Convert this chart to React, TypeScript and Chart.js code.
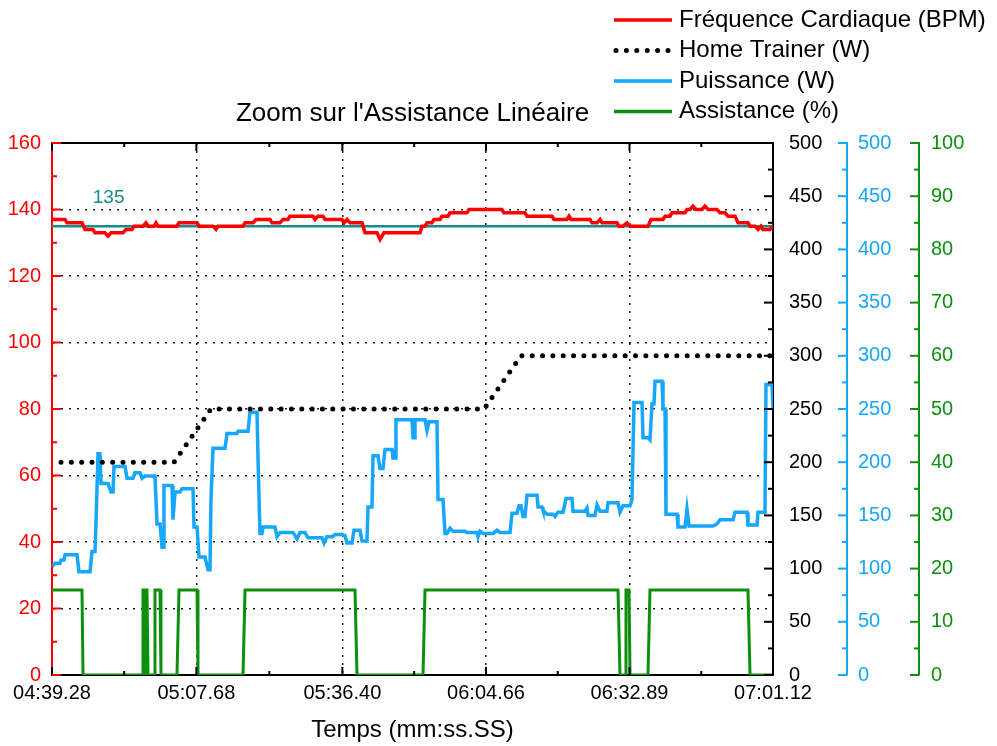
import React, { useEffect, useRef } from 'react';
import { Chart, registerables } from 'chart.js';

Chart.register(...registerables);

const FONT = "'Liberation Sans', Arial, sans-serif";

// ---------- data ----------
const chartTitle = "Zoom sur l'Assistance Linéaire";
const xAxisTitle = 'Temps (mm:ss.SS)';
const xTickLabels = ['04:39.28', '05:07.68', '05:36.40', '06:04.66', '06:32.89', '07:01.12'];

const seriesLabels = ['Fréquence Cardiaque (BPM)', 'Home Trainer (W)', 'Puissance (W)', 'Assistance (%)'];

const hrTimes = [279.28, 281.84, 282.23, 285.18, 285.77, 287.35, 287.74, 289.71, 290.30, 290.89, 293.25, 293.84, 295.02, 295.41, 297.18, 297.77, 298.17, 299.35, 299.74, 300.13, 303.87, 304.26, 307.81, 308.20, 310.95, 311.54, 311.94, 316.86, 317.25, 318.82, 319.41, 322.17, 322.56, 324.13, 324.72, 325.71, 326.10, 330.63, 331.02, 331.61, 332.59, 332.99, 336.33, 336.73, 337.32, 337.91, 340.27, 340.86, 343.22, 343.81, 344.59, 351.68, 352.07, 352.66, 353.05, 354.04, 354.43, 355.61, 356.00, 357.19, 357.58, 360.92, 361.32, 367.81, 368.20, 372.33, 372.73, 377.65, 378.04, 380.60, 380.99, 381.38, 385.12, 385.51, 386.50, 387.09, 387.48, 390.43, 390.83, 391.61, 392.40, 392.99, 396.53, 397.12, 399.48, 399.88, 400.86, 401.25, 403.81, 404.20, 404.79, 405.38, 405.97, 407.15, 407.74, 408.33, 410.11, 410.70, 411.68, 412.27, 413.65, 414.24, 416.20, 416.60, 417.58, 418.17, 418.76, 419.15, 420.53, 421.12];
const hrValues = [137, 137, 136, 136, 134, 134, 133, 133, 132, 133, 133, 134, 134, 135, 135, 136, 135, 135, 136, 135, 135, 136, 136, 135, 135, 134, 135, 135, 136, 136, 137, 137, 136, 136, 137, 137, 138, 138, 137, 138, 138, 137, 137, 136, 137, 136, 136, 133, 133, 131, 133, 133, 135, 135, 136, 136, 137, 137, 138, 138, 139, 139, 140, 140, 139, 139, 138, 138, 137, 137, 138, 137, 137, 136, 136, 137, 136, 136, 135, 135, 136, 135, 135, 137, 137, 138, 138, 139, 139, 140, 140, 141, 140, 140, 141, 140, 140, 139, 139, 138, 138, 136, 136, 135, 135, 134, 135, 134, 134, 135];

const trainerTimes = [281.05, 303.28, 310.56, 364.27, 371.55, 421.12];
const trainerValues = [200, 200, 250, 250, 300, 300];

const powerTimes = [279.28, 279.87, 280.85, 281.05, 281.64, 281.84, 284.20, 284.59, 286.76, 287.15, 287.74, 287.94, 288.13, 288.33, 288.72, 288.92, 290.30, 290.89, 291.28, 291.48, 293.64, 294.04, 295.22, 295.61, 296.59, 296.99, 297.58, 299.54, 299.94, 300.53, 300.92, 301.12, 301.31, 302.89, 303.08, 303.48, 304.46, 304.86, 307.02, 307.22, 307.81, 308.20, 309.38, 309.97, 310.36, 310.56, 310.95, 313.31, 313.71, 315.67, 315.87, 317.84, 318.23, 319.61, 319.81, 320.20, 320.59, 320.79, 323.15, 323.54, 324.13, 326.69, 327.48, 328.07, 329.05, 329.64, 332.40, 332.79, 333.38, 334.36, 334.95, 336.33, 336.92, 337.32, 338.30, 338.69, 339.87, 340.27, 341.25, 341.45, 342.23, 342.43, 343.41, 343.81, 344.40, 344.79, 346.17, 346.36, 346.76, 346.95, 350.10, 350.30, 350.50, 350.69, 352.66, 353.05, 353.44, 355.02, 355.22, 356.20, 356.60, 356.99, 357.58, 358.17, 360.53, 360.92, 362.89, 363.09, 363.48, 364.07, 366.03, 366.83, 367.42, 369.38, 369.78, 370.76, 371.15, 371.55, 371.94, 372.33, 372.73, 374.70, 374.89, 375.68, 375.87, 376.66, 377.84, 378.23, 378.83, 379.81, 380.40, 381.58, 381.78, 384.14, 384.53, 384.73, 386.10, 386.50, 387.09, 388.46, 388.66, 390.63, 391.02, 391.61, 392.99, 393.38, 393.78, 395.35, 395.55, 396.53, 396.92, 397.32, 397.71, 397.91, 399.29, 399.48, 399.88, 400.07, 402.24, 402.43, 403.42, 403.81, 404.20, 404.60, 409.32, 410.11, 410.70, 413.26, 413.65, 416.01, 416.20, 417.98, 418.17, 419.54, 419.74, 420.92, 421.12];
const powerValues = [102, 105, 105, 108, 108, 113, 113, 97, 97, 116, 116, 144, 144, 208, 208, 180, 180, 172, 172, 196, 196, 185, 185, 190, 190, 185, 187, 187, 142, 142, 120, 120, 178, 178, 146, 172, 172, 175, 175, 139, 139, 111, 111, 99, 99, 165, 213, 213, 227, 227, 229, 229, 247, 247, 203, 133, 133, 139, 139, 130, 134, 134, 128, 134, 134, 129, 129, 124, 130, 130, 132, 132, 131, 124, 124, 136, 136, 126, 126, 158, 158, 206, 206, 194, 194, 212, 212, 204, 204, 240, 240, 223, 223, 240, 240, 230, 238, 238, 165, 165, 133, 133, 138, 135, 135, 134, 134, 130, 135, 133, 133, 136, 134, 134, 152, 152, 159, 159, 149, 149, 169, 169, 158, 158, 155, 151, 151, 149, 153, 153, 166, 166, 154, 154, 157, 150, 150, 160, 154, 154, 162, 162, 153, 159, 159, 165, 256, 256, 223, 223, 221, 255, 255, 276, 276, 250, 250, 151, 151, 139, 139, 139, 156, 140, 140, 142, 146, 146, 153, 153, 141, 141, 153, 153, 273, 273, 250];

const assistTimes = [279.28, 285.18, 285.38, 296.99, 297.18, 297.38, 297.58, 297.68, 297.87, 297.97, 298.17, 299.35, 299.54, 300.53, 300.72, 303.87, 304.26, 307.81, 308.00, 316.86, 317.25, 338.89, 339.28, 352.27, 352.66, 390.63, 391.02, 392.01, 392.20, 392.79, 392.99, 396.53, 396.92, 416.20, 416.60, 421.12];
const assistValues = [16, 16, 0, 0, 16, 16, 0, 0, 16, 16, 0, 0, 16, 16, 0, 0, 16, 16, 0, 0, 16, 16, 0, 0, 16, 16, 0, 0, 16, 16, 0, 0, 16, 16, 0, 0];

const refLineValue = 135;
const refLabelText = '135';
const refLabelTime = 287.3;
const refLabelValue = 143.5;

// ---------- style ----------
const RED = '#FF0000';
const BLUE = '#16A6FA';
const GREEN = '#0E900E';
const TEAL = '#168C8C';
const BLACK = '#000000';

const toSec = (s: string) => {
  const [m, r] = s.split(':');
  return Number(m) * 60 + Number(r);
};
const xMajor = xTickLabels.map(toSec);
const xAllTicks: number[] = [];
xMajor.forEach((v, i) => {
  xAllTicks.push(v);
  if (i < xMajor.length - 1) xAllTicks.push((v + xMajor[i + 1]) / 2);
});
const isXMajor = (v: number) => xMajor.some((m) => Math.abs(m - v) < 1e-6);

const range = (min: number, max: number, step: number) => {
  const out: number[] = [];
  for (let v = min; v <= max + 1e-9; v += step) out.push(Number(v.toFixed(6)));
  return out;
};

const pts = (ts: number[], vs: number[]) => ts.map((t, i) => ({ x: t, y: vs[i] }));

type YAxisCfg = {
  id: string; position: 'left' | 'right'; min: number; max: number; minor: number; major: number;
  color: string; width: number; pad: number; grid: boolean; inward: boolean; majorLen: number; minorLen: number;
};

const yAxes: YAxisCfg[] = [
  { id: 'y', position: 'left', min: 0, max: 160, minor: 10, major: 20, color: RED, width: 52, pad: 11, grid: true, inward: true, majorLen: 9, minorLen: 5 },
  { id: 'yR', position: 'right', min: 0, max: 500, minor: 25, major: 50, color: BLACK, width: 74, pad: 16, grid: false, inward: true, majorLen: 9, minorLen: 5 },
  { id: 'yB', position: 'right', min: 0, max: 500, minor: 25, major: 50, color: BLUE, width: 72, pad: 11, grid: false, inward: false, majorLen: 9, minorLen: 5 },
  { id: 'yG', position: 'right', min: 0, max: 100, minor: 5, major: 10, color: GREEN, width: 78, pad: 12, grid: false, inward: false, majorLen: 9, minorLen: 5 },
];

const isMult = (v: number, step: number) => Math.abs(v / step - Math.round(v / step)) < 1e-6;

const decorPlugin = {
  id: 'decor',
  afterDraw(chart: any) {
    const { ctx, chartArea: a, scales } = chart;
    ctx.save();
    // top frame
    ctx.strokeStyle = BLACK;
    ctx.lineWidth = 2;
    ctx.beginPath();
    ctx.moveTo(a.left, a.top);
    ctx.lineTo(a.right, a.top);
    ctx.stroke();

    // x tick marks (bottom and top, inward)
    const xs = scales.x;
    ctx.strokeStyle = BLACK;
    ctx.lineWidth = 2;
    xs.ticks.forEach((t: any) => {
      const px = xs.getPixelForValue(t.value);
      const len = isXMajor(t.value) ? 8 : 4;
      ctx.beginPath();
      ctx.moveTo(px, a.bottom);
      ctx.lineTo(px, a.bottom - len);
      ctx.moveTo(px, a.top);
      ctx.lineTo(px, a.top + len);
      ctx.stroke();
    });

    // y tick marks
    yAxes.forEach((cfg) => {
      const s = scales[cfg.id];
      ctx.strokeStyle = cfg.color;
      ctx.lineWidth = 2;
      const base = cfg.position === 'left' ? s.right : s.left;
      let d: number;
      if (cfg.position === 'left') d = cfg.inward ? 1 : -1;
      else d = cfg.inward ? -1 : -1;
      s.ticks.forEach((t: any) => {
        const py = s.getPixelForValue(t.value);
        const len = isMult(t.value, cfg.major) ? cfg.majorLen : cfg.minorLen;
        ctx.beginPath();
        ctx.moveTo(base, py);
        ctx.lineTo(base + d * len, py);
        ctx.stroke();
      });
    });

    // reference label
    ctx.fillStyle = TEAL;
    ctx.font = `19px ${FONT}`;
    ctx.textAlign = 'left';
    ctx.textBaseline = 'middle';
    ctx.fillText(refLabelText, xs.getPixelForValue(refLabelTime), scales.y.getPixelForValue(refLabelValue));

    // title
    ctx.fillStyle = BLACK;
    ctx.font = `26px ${FONT}`;
    ctx.textAlign = 'center';
    ctx.fillText(chartTitle, (a.left + a.right) / 2, 114);

    // legend
    const colors = [RED, BLACK, BLUE, GREEN];
    ctx.font = `24px ${FONT}`;
    ctx.textAlign = 'left';
    seriesLabels.forEach((lab, i) => {
      const y = 20 + i * 30.5;
      ctx.strokeStyle = colors[i];
      if (i === 1) {
        ctx.setLineDash([0, 10.4]);
        ctx.lineCap = 'round';
        ctx.lineWidth = 5;
        ctx.beginPath();
        ctx.moveTo(616, y);
        ctx.lineTo(670, y);
        ctx.stroke();
        ctx.setLineDash([]);
        ctx.lineCap = 'butt';
      } else {
        ctx.lineWidth = 3.5;
        ctx.beginPath();
        ctx.moveTo(614, y);
        ctx.lineTo(672, y);
        ctx.stroke();
      }
      ctx.fillStyle = BLACK;
      ctx.fillText(lab, 679, y);
    });
    ctx.restore();
  },
};

export default function App() {
  const canvasRef = useRef<HTMLCanvasElement | null>(null);

  useEffect(() => {
    const canvas = canvasRef.current;
    if (!canvas) return;
    Chart.defaults.font.family = FONT;

    const scales: any = {
      x: {
        type: 'linear',
        position: 'bottom',
        min: xMajor[0],
        max: xMajor[xMajor.length - 1],
        afterBuildTicks: (s: any) => {
          s.ticks = xAllTicks.map((v) => ({ value: v }));
        },
        afterFit: (s: any) => {
          s.height = 71;
        },
        ticks: {
          color: BLACK,
          font: { size: 20, family: FONT },
          padding: 6,
          autoSkip: false,
          maxRotation: 0,
          minRotation: 0,
          callback: (v: number) => {
            const i = xMajor.findIndex((m) => Math.abs(m - v) < 1e-6);
            return i >= 0 ? xTickLabels[i] : '';
          },
        },
        grid: {
          drawTicks: false,
          lineWidth: 1.5,
          color: (c: any) => (c.tick && isXMajor(c.tick.value) ? 'rgba(0,0,0,0.9)' : 'rgba(0,0,0,0)'),
        },
        border: { color: BLACK, width: 2, dash: [2, 6] },
        title: {
          display: true,
          text: xAxisTitle,
          color: BLACK,
          font: { size: 24, family: FONT },
          padding: { top: 0, bottom: 1 },
        },
      },
    };

    yAxes.forEach((cfg, i) => {
      scales[cfg.id] = {
        type: 'linear',
        position: cfg.position,
        min: cfg.min,
        max: cfg.max,
        weight: i,
        afterBuildTicks: (s: any) => {
          s.ticks = range(cfg.min, cfg.max, cfg.minor).map((v) => ({ value: v }));
        },
        afterFit: (s: any) => {
          s.width = cfg.width;
        },
        ticks: {
          color: cfg.color,
          font: { size: 20, family: FONT },
          padding: cfg.pad,
          autoSkip: false,
          callback: (v: number) => (isMult(v, cfg.major) ? String(v) : ''),
        },
        grid: {
          drawTicks: false,
          drawOnChartArea: cfg.grid,
          lineWidth: 1.5,
          color: (c: any) => (c.tick && isMult(c.tick.value, cfg.major) ? 'rgba(0,0,0,0.9)' : 'rgba(0,0,0,0)'),
        },
        border: { color: cfg.color, width: 2, dash: [2, 6] },
      };
    });

    const chart = new Chart(canvas, {
      type: 'line',
      data: {
        datasets: [
          {
            label: seriesLabels[0],
            data: pts(hrTimes, hrValues),
            yAxisID: 'y',
            borderColor: RED,
            borderWidth: 3.5,
            pointRadius: 0,
          },
          {
            label: 'ref',
            data: [
              { x: xMajor[0], y: refLineValue },
              { x: xMajor[xMajor.length - 1], y: refLineValue },
            ],
            yAxisID: 'y',
            borderColor: TEAL,
            borderWidth: 2.5,
            pointRadius: 0,
          },
          {
            label: seriesLabels[1],
            data: pts(trainerTimes, trainerValues),
            yAxisID: 'yR',
            borderColor: BLACK,
            borderWidth: 5,
            borderDash: [0, 10.33],
            borderCapStyle: 'round',
            pointRadius: 0,
          },
          {
            label: seriesLabels[2],
            data: pts(powerTimes, powerValues),
            yAxisID: 'yB',
            borderColor: BLUE,
            borderWidth: 3.5,
            pointRadius: 0,
          },
          {
            label: seriesLabels[3],
            data: pts(assistTimes, assistValues),
            yAxisID: 'yG',
            borderColor: GREEN,
            borderWidth: 3,
            pointRadius: 0,
          },
        ],
      },
      options: {
        responsive: false,
        animation: false,
        parsing: false,
        normalized: true,
        layout: { padding: { top: 143, left: 0, right: 0, bottom: 0 } },
        plugins: {
          legend: { display: false },
          title: { display: false },
          tooltip: { enabled: false },
        },
        scales,
      } as any,
      plugins: [decorPlugin],
    } as any);

    return () => chart.destroy();
  }, []);

  return (
    <div style={{ position: 'absolute', left: 0, top: 0, width: 997, height: 746, background: '#fff' }}>
      <canvas ref={canvasRef} width={997} height={746} style={{ display: 'block' }} />
    </div>
  );
}
